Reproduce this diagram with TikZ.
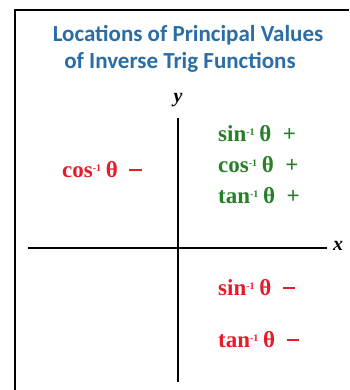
\documentclass[tikz,border=0pt]{standalone}
\usepackage{fontspec}
\setmainfont{Liberation Serif}
\newfontfamily\titlefont{Carlito}
\definecolor{ttlblue}{RGB}{42,110,165}
\definecolor{lblred}{RGB}{232,28,40}
\definecolor{lblgreen}{RGB}{38,128,40}
\newcommand{\inv}[1]{#1\raisebox{0.6ex}{\fontsize{10}{10}\selectfont -1}\hspace{0.2em}θ}
\newcommand{\bigminus}{\raisebox{0.28em}{\rule{0.55em}{2.6pt}}}
\begin{document}
\begin{tikzpicture}[x=1pt,y=-1pt,
  ttl/.style={font=\titlefont\bfseries\fontsize{23}{25}\selectfont, text=ttlblue, inner sep=0pt},
  lbl/.style={font=\bfseries\fontsize{23}{25}\selectfont, inner sep=0pt, anchor=west},
  poslbl/.style={lbl, text=lblgreen},
  neglbl/.style={lbl, text=lblred},
  axisline/.style={line width=2pt, black},
  axlbl/.style={font=\bfseries\itshape\fontsize{20}{22}\selectfont, inner sep=0pt}]
\useasboundingbox (0,0) rectangle (349,390);
\fill[white] (0,0) rectangle (349,390);
\draw[line width=2pt] (15,390) -- (15,10.5) -- (349,10.5);
\node[ttl] (t1) at (188,35) {Locations of Principal Values};
\node[ttl] (t2) at (180,62) {of Inverse Trig Functions};
\coordinate (yb) at (178,382);
\coordinate (yt) at (178,118);
\coordinate (xl) at (28,248);
\coordinate (xr) at (327,248);
\draw[axisline] (yb) -- (yt);
\draw[axisline] (xl) -- (xr);
\node[axlbl] (ylab) at (178,100) {y};
\node[axlbl] (xlab) at (338,246) {x};
\node[neglbl] (c2) at (62,170) {\inv{cos}\hspace{0.5em}\bigminus};
\node[poslbl] (s1) at (218,134) {\inv{sin}\hspace{0.5em}+};
\node[poslbl] (c1) at (218,165) {\inv{cos}\hspace{0.5em}+};
\node[poslbl] (t1q) at (218,196) {\inv{tan}\hspace{0.5em}+};
\node[neglbl] (s4) at (218,288) {\inv{sin}\hspace{0.5em}\bigminus};
\node[neglbl] (t4) at (218,340) {\inv{tan}\hspace{0.5em}\bigminus};
\end{tikzpicture}
\end{document}
